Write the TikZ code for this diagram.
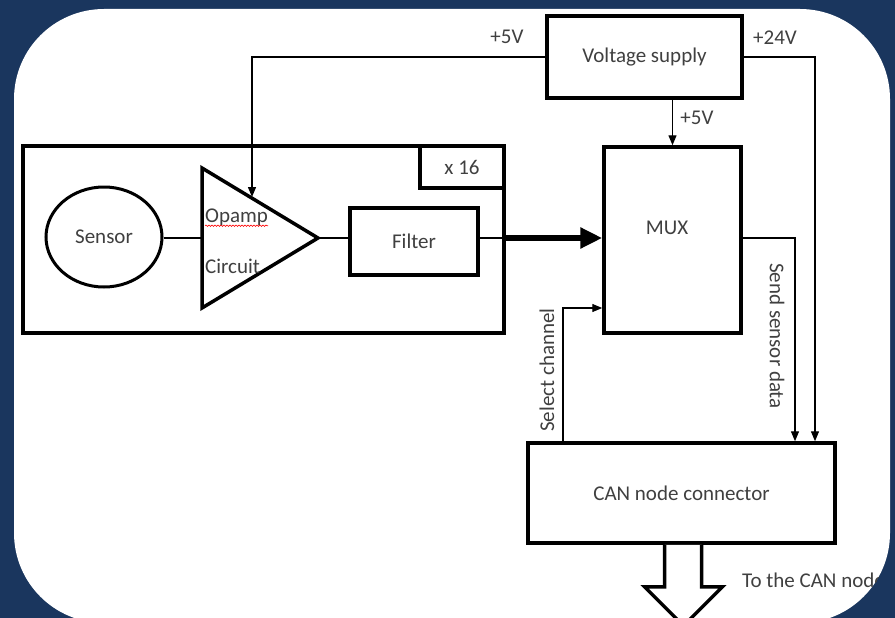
\documentclass[tikz,border=0pt]{standalone}
\usepackage{fontspec}
\setmainfont{Carlito}
\usetikzlibrary{arrows.meta,shapes.geometric,decorations.pathmorphing,calc}
\definecolor{bgblue}{RGB}{26,54,94}
\definecolor{txt}{RGB}{64,64,64}
\begin{document}
\begin{tikzpicture}[x=1pt,y=-1pt, font=\fontsize{21}{25}\selectfont,
  box/.style={draw, line width=3.5pt, inner sep=0pt, text=txt},
  conn/.style={line width=1.3pt},
  arr/.style={conn, -{Triangle[length=10pt,width=8pt]}},
  lbl/.style={text=txt, inner sep=0pt}]
\useasboundingbox (0,0) rectangle (895,618);
\fill[bgblue] (0,0) rectangle (895,618);
\fill[white, rounded corners=90pt] (14,9) rectangle (890,623);
\begin{scope}
\clip[rounded corners=90pt] (14,9) rectangle (890,623);
% blocks
\node[box, minimum width=195pt, minimum height=82pt] (vs) at (644.5,57) {Voltage supply};
\node[box, minimum width=137pt, minimum height=186pt] (mux) at (672.5,240) {};
\node[lbl] (muxl) at (667,228) {MUX};
\node[box, minimum width=481pt, minimum height=187pt] (outer) at (263.5,239.5) {};
\node[box, minimum width=84pt, minimum height=42pt, anchor=north east] (x16) at (outer.north east) {x 16};
\node[box, ellipse, line width=3pt, minimum width=116pt, minimum height=100pt] (sensor) at (104,237) {Sensor};
\draw[line width=3.5pt, line join=miter] (202,168) coordinate (opTL) -- (318,238) coordinate (opT) -- (202,308) coordinate (opBL) -- cycle;
\coordinate (opL) at (202,238);
\coordinate (opIn) at (252,197);
\node[lbl, anchor=west] (opa) at (205,217) {Opamp};
\node[lbl, anchor=west] (cir) at (205,266) {Circuit};
\draw[red, line width=0.6pt, decorate, decoration={snake, amplitude=0.7pt, segment length=3pt}] (opa.south west) -- (opa.south east);
\node[box, minimum width=128pt, minimum height=67pt] (filter) at (414,241.5) {Filter};
\node[box, minimum width=307pt, minimum height=100pt] (can) at (681.5,493) {CAN node connector};
% helper coordinates
\coordinate (x815) at (815,0);
\coordinate (x795) at (795,0);
\coordinate (x563) at (563,0);
\coordinate (y308) at (0,308);
% connectors
\draw[conn] (sensor.east |- opL) -- (opL);
\draw[conn] (opT) -- (filter.west |- opT);
\draw[conn] (filter.east |- opT) -- (outer.east |- opT);
\draw[line width=5.5pt, -{Triangle[length=22pt,width=20pt]}] (outer.east |- opT) -- (mux.west |- opT);
\draw[arr] (vs.west) -| (opIn);
\draw[arr] (vs.east) -| (can.north -| x815);
\draw[arr] (mux.north |- vs.south) -- (mux.north);
\draw[arr] (mux.east |- opT) -| (can.north -| x795);
\draw[arr] (can.north -| x563) |- (mux.west |- y308);
\draw[line width=3.5pt, line join=miter, fill=white] ([xshift=-17pt]can.south) -- ++(0,42) -- ++(-20,0) -- ++(39,39) -- ++(39,-39) -- ++(-21,0) -- ++(0,-42);
% labels
\node[lbl] (l5a) at (507,37) {+5V};
\node[lbl] (l24) at (775,38) {+24V};
\node[lbl] (l5b) at (697,118) {+5V};
\node[lbl, rotate=90] (lsel) at (547,370) {Select channel};
\node[lbl, rotate=-90] (lsend) at (777,336) {Send sensor data};
\node[lbl, anchor=west] (lto) at (742,580) {To the CAN node};
\end{scope}
\end{tikzpicture}
\end{document}
